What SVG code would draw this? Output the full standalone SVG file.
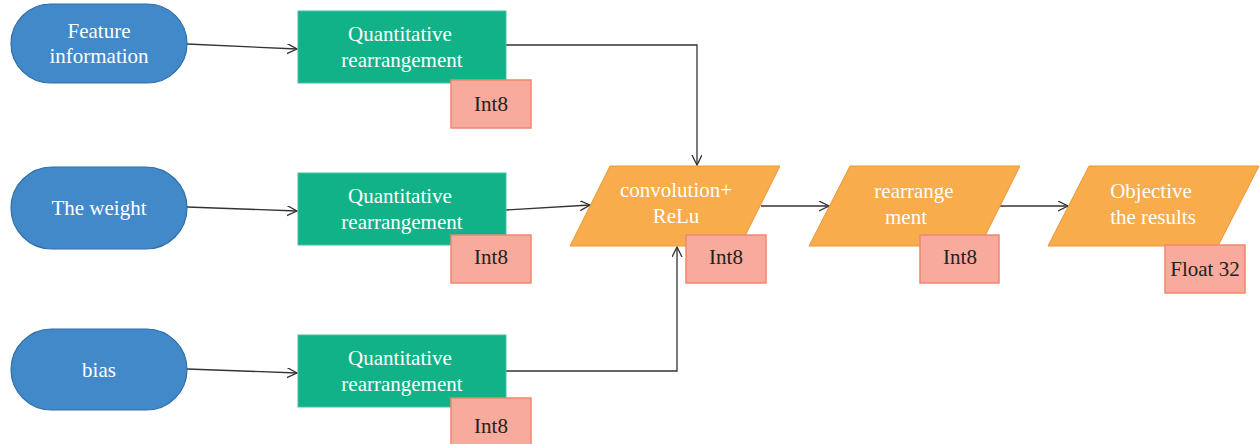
<svg xmlns="http://www.w3.org/2000/svg" width="1260" height="444" viewBox="0 0 1260 444">
<style>
.stad{fill:#4189C9;stroke:#2F6EA8;stroke-width:1.2}
.green{fill:#12B289;stroke:#3FC4A0;stroke-width:1}
.orange{fill:#F9AC4B;stroke:#E8983A;stroke-width:1}
.pink{fill:#F8AA9C;stroke:#F08670;stroke-width:1.5}
.wt{font-family:"Liberation Serif",serif;font-size:21px;fill:#FFFFFF;text-anchor:middle}
.dt{font-family:"Liberation Serif",serif;font-size:21px;fill:#222222;text-anchor:middle}
.conn{fill:none;stroke:#333333;stroke-width:1.3}
</style>
<defs>
<marker id="arr" markerWidth="12" markerHeight="12" refX="10" refY="5" orient="auto" markerUnits="userSpaceOnUse">
<path d="M0,0 L10,5 L0,10" fill="none" stroke="#333333" stroke-width="1.3"/>
</marker>
</defs>
<g id="connectors">
<path class="conn" d="M187,44 L297,49" marker-end="url(#arr)"/>
<path class="conn" d="M187,207 L297,211" marker-end="url(#arr)"/>
<path class="conn" d="M187,369 L297,373" marker-end="url(#arr)"/>
<path class="conn" d="M506,45 L697,45 L697,165" marker-end="url(#arr)"/>
<path class="conn" d="M506,210 L590,205" marker-end="url(#arr)"/>
<path class="conn" d="M506,371 L677,371 L677,247" marker-end="url(#arr)"/>
<path class="conn" d="M761,206 L829,206" marker-end="url(#arr)"/>
<path class="conn" d="M1000,206 L1068,206" marker-end="url(#arr)"/>
</g>
<g id="feature">
<rect class="stad" x="11" y="4" width="176" height="79" rx="39.5" ry="39.5"/>
<text class="wt" x="99" y="38">Feature</text>
<text class="wt" x="99" y="63">information</text>
</g>
<g id="weight">
<rect class="stad" x="11" y="167" width="176" height="82" rx="41" ry="41"/>
<text class="wt" x="99" y="215">The weight</text>
</g>
<g id="bias">
<rect class="stad" x="11" y="329" width="176" height="81" rx="40.5" ry="40.5"/>
<text class="wt" x="99" y="377">bias</text>
</g>
<g id="quant1">
<rect class="green" x="298" y="11" width="208" height="72"/>
<text class="wt" x="400" y="41">Quantitative</text>
<text class="wt" x="402" y="67">rearrangement</text>
</g>
<g id="int8a">
<rect class="pink" x="451" y="80" width="80" height="48"/>
<text class="dt" x="491" y="111">Int8</text>
</g>
<g id="quant2">
<rect class="green" x="298" y="173" width="208" height="72"/>
<text class="wt" x="400" y="203">Quantitative</text>
<text class="wt" x="402" y="229">rearrangement</text>
</g>
<g id="int8b">
<rect class="pink" x="451" y="235" width="80" height="48"/>
<text class="dt" x="491" y="264">Int8</text>
</g>
<g id="quant3">
<rect class="green" x="298" y="335" width="208" height="72"/>
<text class="wt" x="400" y="365">Quantitative</text>
<text class="wt" x="402" y="391">rearrangement</text>
</g>
<g id="int8c">
<rect class="pink" x="451" y="398" width="80" height="48"/>
<text class="dt" x="491" y="433">Int8</text>
</g>
<g id="conv">
<polygon class="orange" points="610,166 780,166 740,246 570,246"/>
<text class="wt" x="676" y="197">convolution+</text>
<text class="wt" x="676" y="223">ReLu</text>
</g>
<g id="int8d">
<rect class="pink" x="686" y="235" width="80" height="48"/>
<text class="dt" x="726" y="264">Int8</text>
</g>
<g id="rearr">
<polygon class="orange" points="850,166 1020,166 980,246 809,246"/>
<text class="wt" x="914" y="198">rearrange</text>
<text class="wt" x="906" y="224">ment</text>
</g>
<g id="int8e">
<rect class="pink" x="920" y="235" width="79" height="48"/>
<text class="dt" x="960" y="264">Int8</text>
</g>
<g id="objective">
<polygon class="orange" points="1089,166 1259,166 1218,246 1048,246"/>
<text class="wt" x="1151" y="198">Objective</text>
<text class="wt" x="1153" y="224">the results</text>
</g>
<g id="float32">
<rect class="pink" x="1165" y="245" width="80" height="48"/>
<text class="dt" x="1205" y="276">Float 32</text>
</g>
</svg>
